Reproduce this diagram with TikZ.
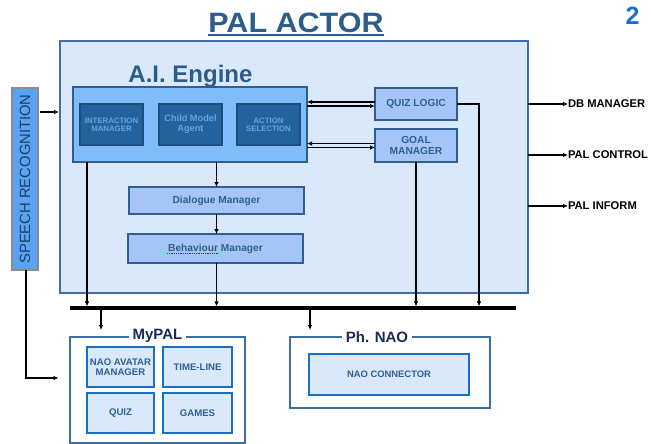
\documentclass[tikz,border=0pt]{standalone}
\usepackage{fontspec}
\setmainfont{Liberation Sans}
\usetikzlibrary{arrows.meta}
\definecolor{actorfill}{HTML}{DAE8FC}
\definecolor{actordraw}{HTML}{3D6EA8}
\definecolor{aifill}{HTML}{80BCFA}
\definecolor{aidraw}{HTML}{2E5E92}
\definecolor{darkfill}{HTML}{22639E}
\definecolor{darkdraw}{HTML}{1B4F80}
\definecolor{darktext}{HTML}{63A3E6}
\definecolor{midfill}{HTML}{A6C5F7}
\definecolor{midtext}{HTML}{2F5F93}
\definecolor{speechfill}{HTML}{5AA2F2}
\definecolor{speechdraw}{HTML}{8C8C8C}
\definecolor{speechtext}{HTML}{1D3F66}
\definecolor{modfill}{HTML}{DAE8FC}
\definecolor{moddraw}{HTML}{1B6EC2}
\definecolor{titleblue}{HTML}{2B5C8A}
\definecolor{navy}{HTML}{1A2E55}
\definecolor{pagenum}{HTML}{1A6ECF}
\newcommand{\fsz}[1]{\fontsize{#1}{#1}\selectfont}
\begin{document}
\begin{tikzpicture}[x=1pt,y=-1pt,
  every node/.style={inner sep=0pt, outer sep=0pt},
  actorbox/.style={draw=actordraw, fill=actorfill, line width=1.4pt},
  aibox/.style={draw=aidraw, fill=aifill, line width=1.4pt},
  darkbox/.style={draw=darkdraw, fill=darkfill, line width=1.4pt, text=darktext, align=center, font=\fsz{7.8}\bfseries},
  midbox/.style={draw=aidraw, fill=midfill, line width=1.4pt, text=midtext, align=center, font=\fsz{10.2}\bfseries},
  speechbox/.style={draw=speechdraw, fill=speechfill, line width=1.6pt},
  frame/.style={draw=actordraw, fill=white, line width=1.4pt},
  framelabel/.style={fill=white, inner xsep=4pt, inner ysep=2pt, text=navy, font=\fsz{15}\bfseries},
  modbox/.style={draw=moddraw, fill=modfill, line width=1.8pt, text=midtext, align=center, font=\fsz{9.6}\bfseries},
  outlabel/.style={anchor=west, font=\fsz{11.2}\bfseries, text=black},
  conn/.style={line width=1.4pt},
  arr/.style={conn, -{Latex[length=5pt,width=4.6pt]}},
  spell/.style={red!80!black, line width=0.8pt, densely dotted}
]
\useasboundingbox (0,0) rectangle (651,444);

% headings
\node[anchor=base, text=titleblue, font=\fsz{28}\bfseries] (title) at (296,32.5)
  {\scalebox{1.09}[1]{PAL ACTOR}};
\draw[titleblue, line width=1.8pt] ([yshift=-2.4pt]title.base west) -- ([yshift=-2.4pt]title.base east);
\node[anchor=base, text=pagenum, font=\fsz{25}\bfseries] (page) at (632.5,25) {2};

% PAL actor container
\node[actorbox, minimum width=468, minimum height=252] (actor) at (294,167) {};
\node[anchor=base, text=titleblue, font=\fsz{24}\bfseries] (aititle) at (190.5,82) {A.I. Engine};

% A.I. engine and its parts
\node[aibox, minimum width=234, minimum height=75] (ai) at (190,124.5) {};
\node[darkbox, minimum width=63, minimum height=41] (inter) at (111.5,124.5) {INTERACTION\\MANAGER};
\node[darkbox, minimum width=63, minimum height=41, font=\fsz{9.2}\bfseries] (child) at (190.5,124.5) {Child Model\\[1pt]Agent};
\node[darkbox, minimum width=63, minimum height=41] (action) at (268.5,124.5) {ACTION\\SELECTION};

\node[midbox, minimum width=175, minimum height=27] (dialogue) at (216.5,200.5) {Dialogue Manager};
\node[midbox, minimum width=175, minimum height=29] (behaviour) at (215.5,248.5) {Behaviour Manager};
\draw[spell] (167,253.5) -- (218,253.5);

\node[midbox, minimum width=82, minimum height=32] (quiz) at (416,104) {QUIZ LOGIC};
\node[midbox, minimum width=82, minimum height=33] (goal) at (416,145.5) {GOAL\\[1pt]MANAGER};

% speech recognition
\node[speechbox, minimum width=26, minimum height=182] (speech) at (25,179) {};
\node[rotate=90, text=speechtext, font=\fsz{14.8}] (speechtxt) at (speech.center) {SPEECH RECOGNITION};

% external outputs
\node[outlabel] (db) at (568,104) {DB MANAGER};
\node[outlabel] (ctrl) at (568,155) {PAL CONTROL};
\node[outlabel] (inform) at (568,206) {PAL INFORM};

% bus
\coordinate (busL) at (70,308);
\coordinate (busR) at (516,308);
\draw[line width=3.2pt] (busL) -- (busR);

% lower modules
\node[frame, minimum width=175, minimum height=106] (mypal) at (157.5,390) {};
\node[framelabel, anchor=base] (mypaltxt) at (157.5,339) {MyPAL};
\node[modbox, minimum width=67, minimum height=40] (avatar) at (120.5,367) {NAO AVATAR\\[1pt]MANAGER};
\node[modbox, minimum width=69, minimum height=40] (timeline) at (197.5,367) {TIME-LINE};
\node[modbox, minimum width=67, minimum height=40] (mquiz) at (120.5,413) {QUIZ};
\node[modbox, minimum width=69, minimum height=40] (games) at (197.5,413) {GAMES};

\node[frame, minimum width=200, minimum height=71] (phnao) at (390,372.5) {};
\node[framelabel, anchor=base] (phnaotxt) at (377,342) {Ph. NAO};
\node[modbox, minimum width=160, minimum height=41, font=\fsz{9.4}\bfseries] (connector) at (389,374.5) {NAO CONNECTOR};

% connectors
\coordinate (srin) at (0,112);
\draw[arr, shorten <=2pt, shorten >=1pt] (speech.east |- srin) -- (actor.west |- srin);
\coordinate (srturn) at (26,378);
\coordinate (mypalside) at (58.5,378);
\draw[arr] (speech.south -| srturn) |- (mypalside);

\draw[arr] ([yshift=2pt]quiz.west) -- ([yshift=2pt]quiz.west -| ai.east);
\draw[arr] ([yshift=-2pt]quiz.west -| ai.east) -- ([yshift=-2pt]quiz.west);
\draw[arr] ([yshift=2pt]goal.west) -- ([yshift=2pt]goal.west -| ai.east);
\draw[arr] ([yshift=-2pt]goal.west -| ai.east) -- ([yshift=-2pt]goal.west);

\draw[arr] (dialogue.north |- ai.south) -- (dialogue.north);
\draw[arr] (dialogue.south) -- (dialogue.south |- behaviour.north);
\draw[arr, shorten >=1.6pt] (behaviour.south -| dialogue.south) -- (dialogue.south |- busL);
\draw[arr, shorten >=1.6pt] ([xshift=14pt]ai.south west) -- ([xshift=14pt]ai.south west |- busL);
\draw[arr, shorten >=1.6pt] (goal.south) -- (goal.south |- busL);
\coordinate (qdrop) at (479,308);
\draw[arr, shorten >=1.6pt] (quiz.east) -| (qdrop);

\coordinate (mypalin) at (101,330);
\coordinate (phnaoin) at (310,330);
\draw[arr, shorten <=1.6pt] (mypalin |- busL) -- (mypalin);
\draw[arr, shorten <=1.6pt] (phnaoin |- busL) -- (phnaoin);

\draw[arr] (actor.east |- db.west) -- (db.west);
\draw[arr] (actor.east |- ctrl.west) -- (ctrl.west);
\draw[arr] (actor.east |- inform.west) -- (inform.west);
\end{tikzpicture}
\end{document}
